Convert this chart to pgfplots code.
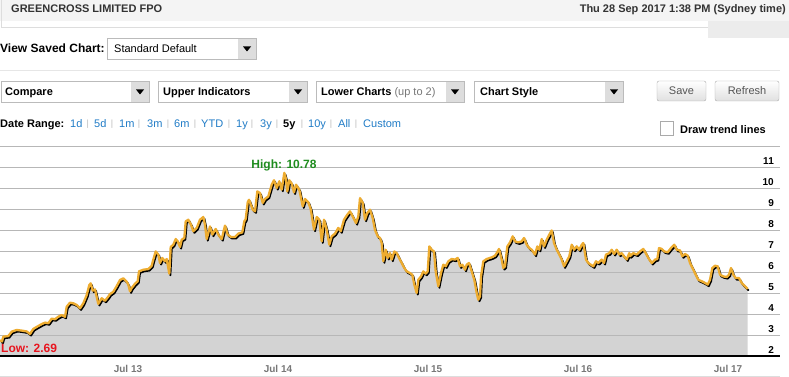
\documentclass[border=0pt]{standalone}
\usepackage{pgfplots}
\pgfplotsset{compat=1.18}
\usepackage{pgfplotstable}
\usepackage{fontspec}
\setmainfont{Liberation Sans}

\definecolor{hdrbg}{HTML}{F4F4F4}
\definecolor{hdrbox}{HTML}{ECECEC}
\definecolor{linegray}{HTML}{DDDDDD}
\definecolor{hdrtext}{HTML}{333333}
\definecolor{boxborder}{HTML}{BBBBBB}
\definecolor{arrowbg}{HTML}{DDDDDD}
\definecolor{sepgray}{HTML}{E6E6E6}
\definecolor{btnborder}{HTML}{AAAAAA}
\definecolor{btnbottom}{HTML}{E0E0E0}
\definecolor{btntext}{HTML}{555555}
\definecolor{linkblue}{HTML}{1F7BC6}
\definecolor{barsep}{HTML}{BBBBBB}
\definecolor{gridgray}{HTML}{B7B7B7}
\definecolor{fillgray}{HTML}{D3D3D3}
\definecolor{lineorange}{HTML}{EDAC30}
\definecolor{labelgray}{HTML}{777777}
\definecolor{highgreen}{HTML}{1E8C1E}
\definecolor{lowred}{HTML}{E8141E}

\newcommand\fs[1]{\fontsize{#1}{#1}\selectfont}

% x = time position (Sep 2012 ... Sep 2017), y = price (AUD)
\pgfplotstableread{
x y
0 2.75
2 2.69
3.3 2.92
8.3 2.95
11.7 3.16
16.7 3.24
21.7 3.21
26.7 3.17
30 3.05
33.3 3.29
38.3 3.43
41.7 3.52
45 3.59
48.3 3.56
51.7 3.78
55 3.75
58.3 3.87
61.7 3.95
65 3.87
66.7 4.35
70 4.54
73.3 4.51
76.7 4.43
80 4.27
83.3 4.51
86.7 4.90
89.3 5.38
90.7 5.46
92.7 5.11
95 5.17
98.3 4.48
101.7 4.75
105 4.63
108.3 4.83
110 4.95
113.3 5.06
116.7 5.33
120 5.62
123.3 5.70
126.7 5.54
128.3 5.40
130 5.08
131.7 5.24
135 5.44
137.7 5.56
139 6.03
143.3 6.11
148.3 6.14
151.7 6.30
153.3 6.59
155.7 6.98
158.3 6.83
160 6.43
162.3 6.67
165 6.51
166.7 6.62
169.3 5.92
170.7 7.19
173.3 7.30
175.7 7.57
177.7 7.46
180 7.19
181.7 7.54
184.3 7.62
185.7 8.41
188.3 8.49
191 8.25
193.3 7.94
196.7 8.10
200 8.49
203.3 8.62
205 8.25
206.7 7.57
210 8.17
212.3 7.78
215.7 8.05
218.3 7.78
221.7 7.57
225 8.21
227.7 7.78
231 7.67
235 7.67
238.3 7.83
242.3 7.89
244.3 8.41
245.7 8.52
247.7 9.32
249 9.44
252.7 8.97
255 8.89
257.3 9.84
260 9.76
262.7 9.29
265 9.48
268.3 9.60
271.7 10.16
274 10.37
276.7 10.00
279.3 10.32
281.7 9.92
284.3 10.72
286 10.43
287.3 9.84
289.3 10.37
291.7 10.21
294 9.79
296 10.16
299.3 9.92
302.7 9.13
305 9.48
308.3 9.32
310.7 9.00
314 8.02
316.7 8.62
319.3 8.49
321.7 7.46
324 8.49
326.7 8.02
329.3 7.30
331.7 7.70
335 7.83
338.3 8.10
340.7 7.94
344 8.49
347.3 8.73
350 8.89
352.7 8.65
356 8.33
358.3 8.65
360 9.52
362.7 9.29
365 8.49
367.3 8.81
370 8.97
372.7 8.57
375 8.00
377.7 7.70
380 7.62
381.7 7.38
383.3 6.51
385.7 7.06
387.7 6.67
390 6.90
391.7 6.59
394.3 6.98
396.7 6.90
399 6.67
401.7 6.43
404.3 6.19
406.7 6.03
410 5.95
412.3 5.87
414.3 5.40
416.7 5.00
418.3 5.63
421 5.79
423.3 6.03
425.7 5.92
427.7 6.03
429.3 7.22
431.7 7.06
434 6.98
435.7 6.03
438.3 5.32
441 5.95
443.3 6.35
445.7 6.27
448.3 6.51
451.7 6.62
455 6.59
457.7 6.67
460 6.27
462.3 6.35
465 6.11
466.7 6.35
469 6.43
471.7 6.03
474.3 5.63
476.7 5.00
478.3 4.68
480 4.84
481 5.79
483.3 6.51
486.7 6.62
490 6.67
492.3 6.71
495 6.78
496.7 6.90
499 7.10
501.7 6.59
503.3 6.19
505 6.27
507.3 7.22
510 7.41
512.7 7.70
515 7.46
518.3 7.41
521.7 7.46
524 7.62
526.7 7.30
529.3 7.14
531.7 7.06
535 6.83
537.3 7.22
539.3 7.06
541.7 7.57
544 7.22
546.7 7.54
549.3 7.78
551.7 7.98
554 7.38
556.7 7.06
559.3 6.83
561.7 6.59
564 6.27
566.7 6.51
569.3 6.75
571.7 7.30
574 7.06
576.7 7.22
579.3 7.06
581.7 7.30
583.3 7.38
586 6.59
588.3 6.43
590.7 6.35
593.3 6.27
596 6.51
598.3 6.43
601.7 6.59
604 6.43
606 6.83
609.3 6.90
611.7 7.06
614 6.86
616.7 7.06
619.3 6.83
621.7 6.90
624 6.75
626.7 6.60
629.3 6.90
630 6.75
633.3 6.90
636.7 6.83
640 6.98
643.3 7.10
645.7 6.90
648.3 6.67
651.7 6.43
655 6.59
657.3 6.62
659 7.14
661.7 7.10
664.3 6.98
667.7 6.94
671 7.14
674.3 7.30
676.7 7.06
680 7.03
682.3 6.75
685 6.86
687.7 6.78
690 6.43
693.3 6.11
695.7 5.87
698.3 5.63
701.7 5.56
705 5.48
707.7 5.40
710 5.63
712.3 6.19
715 6.30
717.7 6.27
720 5.87
723.3 5.79
726.7 5.76
729 5.87
731 6.19
733.3 5.87
735.7 5.71
739 5.71
741.7 5.48
745 5.32
747.7 5.19
}\gncdata

\newcommand\dropdown[4]{%
  \draw[boxborder, fill=white] (#1+0.5,#2+0.5) rectangle (#3-0.5,#4-0.5);
  \fill[arrowbg] (#3-19,#2+1) rectangle (#3-1,#4-1);
  \fill[black] (#3-14,{(#2+#4)/2-2.5}) -- (#3-6,{(#2+#4)/2-2.5}) -- (#3-10,{(#2+#4)/2+2.5}) -- cycle;
}

\begin{document}
\begin{tikzpicture}
\begin{scope}[x=1pt,y=-1pt]
  % header
  \fill[hdrbg] (0,0) rectangle (789,21);
  \fill[hdrbox] (708,21) rectangle (789,38);
  \draw[linegray] (1,0) -- (1,27) -- (708,27);
  \node[anchor=base west, inner sep=0, text=hdrtext] at (11,13) {\fs{11}\bfseries GREENCROSS LIMITED FPO};
  \node[anchor=base east, inner sep=0, text=hdrtext] at (786,13) {\fs{11}\bfseries Thu 28 Sep 2017 1:38 PM (Sydney time)};
  % saved chart
  \node[anchor=base west, inner sep=0] at (0,53) {\fs{12}\bfseries View Saved Chart:};
  \dropdown{107}{38}{257}{60}
  \node[anchor=base west, inner sep=0] at (114,53) {\fs{11}Standard Default};
  \draw[sepgray] (0,70.5) -- (780,70.5);
  % dropdown row
  \dropdown{1}{81}{150}{103}
  \node[anchor=base west, inner sep=0] at (5,96) {\fs{11}\bfseries Compare};
  \dropdown{158}{81}{308}{103}
  \node[anchor=base west, inner sep=0] at (163,96) {\fs{11}\bfseries Upper Indicators};
  \dropdown{316}{81}{465}{103}
  \node[anchor=base west, inner sep=0] at (321,96) {\fs{11}\bfseries Lower Charts \mdseries\color{labelgray}(up to 2)};
  \dropdown{474}{81}{624}{103}
  \node[anchor=base west, inner sep=0] at (480,96) {\fs{11}\bfseries Chart Style};
  % buttons
  \shade[top color=white, bottom color=btnbottom, draw=btnborder, rounded corners=2pt] (657,81) rectangle (706,101);
  \node[anchor=base, inner sep=0, text=btntext] at (681.5,95) {\fs{11}Save};
  \shade[top color=white, bottom color=btnbottom, draw=btnborder, rounded corners=2pt] (715,81) rectangle (779,101);
  \node[anchor=base, inner sep=0, text=btntext] at (747,95) {\fs{11}Refresh};
  % date range
  \node[anchor=base west, inner sep=0] at (0,128) {\fs{11}\bfseries Date Range:};
  \foreach \xx/\tt in {70/1d,94/5d,119/1m,147/3m,174/6m,201/YTD,236/1y,260/3y,308/10y,338/All,363/Custom}
    \node[anchor=base west, inner sep=0, text=linkblue] at (\xx,128) {\fs{11}\tt};
  \node[anchor=base west, inner sep=0] at (283,128) {\fs{11}\bfseries 5y};
  \foreach \xx in {87.7,112,139,168,195,229,252,277,302,331,356}
    \node[anchor=base, inner sep=0, text=barsep] at (\xx,127) {\fs{9}|};
  % checkbox
  \draw[btnborder, fill=white] (660.5,121.5) rectangle (673.5,135.5);
  \node[anchor=base west, inner sep=0] at (680,133) {\fs{11}\bfseries Draw trend lines};
  % chart bottom border
  \draw[linegray] (0,376.5) -- (780,376.5);
\end{scope}

\begin{axis}[
  at={(0pt,-356pt)}, anchor=south west,
  scale only axis, width=780pt, height=210pt,
  xmin=0, xmax=780, ymin=2, ymax=12,
  set layers, clip mode=individual,
  axis line style={draw=none},
  major tick length=0pt,
  no markers,
  ytick={2,3,4,5,6,7,8,9,10,11,12},
  yticklabels={2,3,4,5,6,7,8,9,10,11,},
  ymajorgrids, grid style={draw=gridgray, line width=0.9pt},
  yticklabel pos=right,
  yticklabel style={anchor=base east, inner sep=0pt, xshift=-6pt, yshift=3pt, font=\fs{10}\bfseries},
  xtick={128,278,428,578,728},
  xticklabels={Jul 13,Jul 14,Jul 15,Jul 16,Jul 17},
  xticklabel style={anchor=base, inner sep=0pt, yshift=-16pt, font=\fs{10}\bfseries, text=labelgray},
]
  \addplot[on layer=axis background, fill=fillgray, draw=none] table {\gncdata} \closedcycle;
  \addplot[draw=black, line width=1.8pt, line join=round, xshift=1.1pt, yshift=-1.6pt] table {\gncdata};
  \addplot[draw=lineorange, line width=2.3pt, line join=round] table {\gncdata};
  \draw[black, line width=1.5pt] (rel axis cs:0,0) -- (rel axis cs:1,0);
\end{axis}

\begin{scope}[x=1pt,y=-1pt]
  \node[anchor=base, inner sep=0, text=highgreen] at (284,168) {\fs{12}\bfseries High: 10.78};
  \node[anchor=base west, inner sep=0, text=lowred] at (1,352) {\fs{12}\bfseries Low: 2.69};
\end{scope}

\pgfresetboundingbox
\path (0pt,0pt) rectangle (789pt,-377pt);
\end{tikzpicture}
\end{document}
